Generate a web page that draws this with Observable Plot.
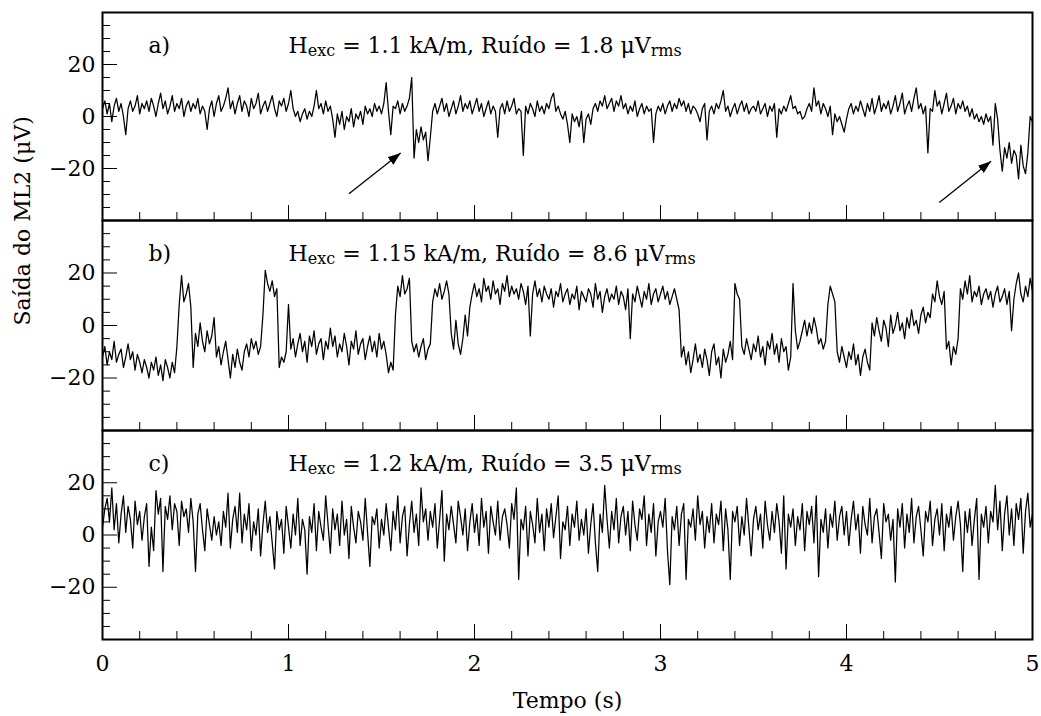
<!DOCTYPE html>
<html><head><meta charset="utf-8">
<script src="https://cdn.jsdelivr.net/npm/d3@7"></script>
<script src="https://cdn.jsdelivr.net/npm/@observablehq/plot@0.6"></script>
<style>
body{margin:0;background:#fff;}
#chart{position:relative;width:1041px;height:716px;}
#chart svg{position:absolute;left:0;overflow:visible;}
</style></head><body><div id="chart"></div>
<script>
const sampleStep = 0.0125;

// a) Hexc = 1.1 kA/m
const seriesA = [
3,6,1,5,-2,4,7,2,5,0,-7,3,6,2,4,8,1,5,3,6,
2,7,4,0,5,9,3,6,1,4,8,2,5,3,7,0,4,6,2,5,
3,7,1,4,2,-5,3,6,0,5,8,2,4,7,11,3,6,1,5,8,
2,6,4,0,7,3,5,9,1,4,6,2,5,8,3,0,6,4,7,2,
5,10,3,0,2,-2,1,3,-1,2,0,4,10,3,5,1,6,2,4,-1,
-8,1,-3,2,-5,0,-2,3,-4,1,-1,2,-3,4,1,3,0,5,2,4,
1,5,13,2,-7,4,3,6,1,5,2,4,7,15,-16,-5,-10,-4,-9,-6,
-17,-8,2,5,1,4,7,2,5,0,3,6,1,4,8,2,5,3,6,1,
4,7,2,5,0,3,6,1,4,2,-8,3,5,1,6,2,4,7,1,3,
2,-15,4,1,5,3,0,6,2,4,1,5,3,7,9,2,4,1,-1,2,
-3,-10,1,-2,0,-4,2,-10,-1,1,-3,3,5,2,6,4,8,3,5,7,
2,6,4,8,3,5,1,4,2,6,0,3,5,1,4,2,3,-10,1,4,
2,5,1,4,6,2,5,3,7,4,6,2,5,1,4,3,1,-2,3,5,
-9,2,4,1,5,3,6,10,2,4,0,3,5,1,4,6,2,5,1,3,
4,2,6,1,3,5,0,4,2,5,-8,3,1,4,2,5,8,3,4,1,
2,-1,0,3,5,2,11,4,6,1,5,3,0,4,-7,1,-2,0,-3,-6,
-1,3,5,1,4,2,6,3,0,5,2,7,1,4,8,2,5,3,6,1,
4,8,2,5,9,1,4,6,2,7,11,3,5,1,4,-14,3,2,10,4,
6,1,5,9,2,4,7,1,5,3,6,2,4,0,3,-1,1,-2,0,-3,
1,-2,0,-11,5,-1,-13,-21,-12,-16,-10,-18,-13,-15,-24,-11,-19,-22,-14,0,
-2];

// b) Hexc = 1.15 kA/m
const seriesB = [
-12,-8,-15,-10,-13,-6,-14,-11,-9,-16,-12,-7,-13,-10,-17,-11,-14,-18,-13,-16,
-20,-14,-17,-12,-19,-15,-21,-13,-16,-20,-14,-18,-8,8,19,9,12,16,7,-16,
-3,-8,1,-6,-10,-2,-7,-4,3,-12,-8,-15,-10,-6,-13,-20,-11,-16,-9,-14,
-17,-10,-7,-12,-5,-9,-6,-11,-8,4,21,16,13,17,11,14,-16,-12,-14,-10,
8,-9,-5,-12,-7,-3,-10,-6,-14,-4,-8,-2,-11,-7,-5,-13,-6,-9,-1,-8,
-4,-12,-7,-10,-3,-8,-15,-6,-9,-2,-11,-7,-5,-13,-8,-4,-10,-6,-12,-3,
-9,-6,-11,-18,-14,-17,4,15,11,19,12,14,18,-6,-10,-7,-12,-8,-5,-13,
-9,-7,9,14,11,16,10,13,17,12,-3,-9,2,-7,-11,-5,4,-4,7,12,
16,11,14,9,18,13,15,10,17,12,14,8,16,13,19,11,15,12,14,10,
16,13,8,15,-4,12,17,11,14,9,15,12,10,14,7,13,11,16,9,12,
14,8,12,10,15,6,13,11,9,14,12,7,16,10,13,5,11,14,9,12,
10,15,8,13,11,6,14,-5,12,9,15,11,7,13,10,16,8,12,14,9,
12,15,10,13,8,11,14,10,6,-12,-8,-15,-10,-18,-13,-7,-14,-11,-16,-9,
-13,-19,-10,-7,-15,-12,-20,-9,-14,-11,-6,-13,16,12,10,-8,-11,-5,-9,-13,
-7,-10,-4,-12,-8,-15,-6,-9,-3,-11,-7,-14,-5,-10,-8,-17,-12,16,-2,-9,
-6,-2,2,-4,1,-3,3,-1,-7,-5,-9,-6,8,15,12,9,-10,-14,-8,-12,
-16,-10,-13,-7,-15,-11,-19,-12,-9,-14,-17,1,-4,3,-2,-6,2,-1,-8,4,
-3,0,5,-2,1,-5,3,-1,6,0,2,-3,4,7,1,5,3,12,9,17,
11,8,13,-9,-6,-15,-8,-11,-5,14,10,17,12,19,9,13,11,15,8,12,
14,10,13,7,12,15,9,11,14,8,13,-2,10,16,20,12,9,15,11,18,
13];

// c) Hexc = 1.2 kA/m
const seriesC = [
3,10,14,5,18,2,12,-3,8,15,1,11,6,-5,13,4,9,-2,7,12,
-12,3,-6,17,8,14,-14,11,6,15,2,12,9,-4,13,7,10,1,14,5,
-14,8,12,2,-6,10,4,-2,7,0,5,-4,9,3,16,-5,6,11,1,16,
-3,8,2,12,-6,5,0,10,-8,4,13,1,7,-3,-13,9,2,6,-7,11,
3,-5,8,0,14,-4,6,2,-15,7,1,12,-6,9,3,-2,15,4,-7,10,
2,8,-4,13,0,6,-9,11,3,-3,9,5,-2,14,1,-12,7,4,10,-5,
6,0,12,3,-6,9,2,15,-3,7,11,-8,4,13,1,8,-4,18,5,10,
-2,9,3,12,-5,6,17,-10,8,2,11,4,-3,13,7,0,10,-6,5,12,
1,8,-4,14,3,9,-7,11,5,0,13,-2,7,10,4,-5,12,6,18,-17,
6,2,11,-8,9,4,-3,14,1,8,-6,10,3,12,-1,7,15,-9,5,2,
11,-4,8,3,13,-2,6,0,10,-7,4,12,-3,-14,8,1,19,6,-5,9,
2,14,-3,7,11,0,9,-6,13,4,-2,10,6,15,-4,8,1,12,-8,5,
9,3,14,-6,-19,7,2,11,-4,8,12,-17,6,3,10,-2,15,4,9,-5,
7,1,12,-3,8,4,13,-6,10,2,-17,9,5,11,-4,7,0,14,3,-8,
6,11,2,8,-5,13,4,-2,9,1,12,5,-7,15,-13,8,3,10,-4,7,
2,12,-6,9,4,11,-3,15,-16,6,1,10,-5,8,3,13,-2,7,11,0,
9,-4,6,13,2,8,-7,11,4,0,14,-3,7,10,1,-9,12,5,8,-2,
6,-18,10,3,12,-5,8,1,14,-3,7,11,2,-8,9,5,13,-4,6,10,
0,12,-6,8,3,11,-2,7,13,4,-14,9,1,10,-4,6,14,-17,8,3,
11,-3,9,5,19,2,13,-6,8,15,0,10,-4,12,6,14,-7,9,16,3,
8];

const panelLabels = ["a)", "b)", "c)"];
const fieldValues = ["1.1", "1.15", "1.2"];   // kA/m
const noiseValues = ["1.8", "8.6", "3.5"];    // µVrms
const yMajorTicks = [-20, 0, 20];
const yMinorTicks = [-35, -30, -25, -15, -10, -5, 5, 10, 15, 25, 30, 35];
const xMajorTicks = [0, 1, 2, 3, 4, 5];
const xMinorTicks = [0.2, 0.4, 0.6, 0.8, 1.2, 1.4, 1.6, 1.8, 2.2, 2.4, 2.6, 2.8, 3.2, 3.4, 3.6, 3.8, 4.2, 4.4, 4.6, 4.8];
// arrows in panel a) : [time, µV]
const arrowTails = [[1.325, -29.7], [4.499, -33.1]];
const arrowTips = [[1.603, -14.0], [4.777, -17.2]];
const xLabel = "Tempo (s)";
const yLabel = "Saída do ML2 (μV)";

const FONT = "DejaVu Serif";

// filled triangular arrow head
function filledHead(color) {
  return d3.create("svg:marker")
    .attr("viewBox", "-10 -5 10 10")
    .attr("refX", 0).attr("refY", 0)
    .attr("markerUnits", "userSpaceOnUse")
    .attr("markerWidth", 13).attr("markerHeight", 13)
    .attr("orient", "auto")
    .attr("fill", color).attr("stroke", "none")
    .call(m => m.append("path").attr("d", "M0,0L-10,-3.6L-10,3.6Z"))
    .node();
}

function arrowMarks(arr) {
  try {
    return [Plot.link(arr, {x1: "x1", y1: "y1", x2: "x2", y2: "y2", stroke: "black", strokeWidth: 1.3, markerEnd: filledHead})];
  } catch (e) {
    return [Plot.arrow(arr, {x1: "x1", y1: "y1", x2: "x2", y2: "y2", stroke: "black", strokeWidth: 1.3, headLength: 12, headAngle: 45})];
  }
}

function panel(k, values, opts) {
  const data = values.map((v, i) => ({t: i * sampleStep, v}));
  const annot = `H|exc| = ${fieldValues[k]} kA/m, Ruído = ${noiseValues[k]} μV|rms`;
  const marks = [
    Plot.line(data, {x: "t", y: "v", stroke: "black", strokeWidth: 1.25}),
    Plot.axisY({ticks: yMajorTicks, tickSize: -15, tickPadding: 22, fontSize: 22, label: null}),
    Plot.axisY({ticks: yMinorTicks, tickSize: -8, tickFormat: () => "", label: null}),
    Plot.axisX({ticks: xMinorTicks, tickSize: -8, tickFormat: () => "", label: null}),
    opts.bottomLabels
      ? Plot.axisX({ticks: xMajorTicks, tickSize: -15, tickPadding: 31, fontSize: 22, tickFormat: d => String(d), label: null})
      : Plot.axisX({ticks: xMajorTicks, tickSize: -15, tickFormat: () => "", label: null}),
    Plot.frame({stroke: "black", strokeWidth: 2}),
    Plot.text([panelLabels[k]], {text: d => d, frameAnchor: "top-left", dx: 46, dy: 33, lineAnchor: "middle", textAnchor: "start", fontSize: 22}),
    Plot.text([annot], {text: d => d, frameAnchor: "top-left", dx: 186, dy: 33, lineAnchor: "middle", textAnchor: "start", fontSize: 22})
  ];
  if (opts.arrows) {
    const arr = arrowTails.map((d, i) => ({x1: d[0], y1: d[1], x2: arrowTips[i][0], y2: arrowTips[i][1]}));
    marks.push(...arrowMarks(arr));
  }
  if (opts.yLabel) {
    marks.push(Plot.text([yLabel], {text: d => d, frameAnchor: "left", dx: -80, rotate: -90, fontSize: 22}));
  }
  if (opts.xLabel) {
    marks.push(Plot.text([xLabel], {text: d => d, frameAnchor: "bottom", dy: 61, lineAnchor: "middle", fontSize: 22}));
  }
  const svg = Plot.plot({
    width: 1041, height: opts.height,
    marginLeft: 102, marginRight: 9, marginTop: opts.marginTop, marginBottom: opts.marginBottom,
    x: {domain: [0, 5]},
    y: {domain: [-40, 40]},
    style: {fontFamily: FONT, fontSize: "22px", color: "black", background: "none"},
    marks
  });
  // subscripts for Hexc and µVrms
  svg.querySelectorAll("text").forEach(t => {
    if (!t.textContent.includes("|")) return;
    const parts = t.textContent.split("|");
    t.textContent = "";
    parts.forEach((p, j) => {
      const ts = document.createElementNS("http://www.w3.org/2000/svg", "tspan");
      ts.textContent = p;
      if (j % 2 === 1) { ts.setAttribute("font-size", "16"); ts.setAttribute("dy", "3"); }
      else if (j > 0) ts.setAttribute("dy", "-3");
      t.appendChild(ts);
    });
  });
  svg.style.top = opts.top + "px";
  return svg;
}

const chart = document.getElementById("chart");
chart.appendChild(panel(0, seriesA, {height: 220, marginTop: 12, marginBottom: 0, top: 0, arrows: true}));
chart.appendChild(panel(1, seriesB, {height: 210, marginTop: 0, marginBottom: 0, top: 220, yLabel: true}));
chart.appendChild(panel(2, seriesC, {height: 286, marginTop: 0, marginBottom: 77, top: 430, bottomLabels: true, xLabel: true}));
</script></body></html>
